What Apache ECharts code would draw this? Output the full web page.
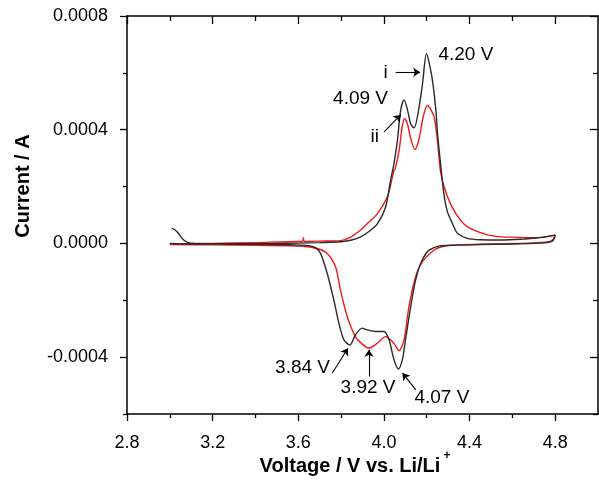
<!DOCTYPE html>
<html><head><meta charset="utf-8">
<script src="https://cdn.jsdelivr.net/npm/echarts@6/dist/echarts.min.js"></script>
<style>html,body{margin:0;padding:0;background:#fff}#c{width:599px;height:485px}</style>
</head><body><div id="c"></div>
<script>
// Voltage (V) and current (A) along the sweep, curve i (black)
var blackV = [3.009,3.02,3.035,3.05,3.065,3.085,3.12,3.3,3.5,3.6,3.7,3.798,3.85,3.891,3.93,3.97,4.008,4.031,4.047,4.063,4.078,4.094,4.11,4.125,4.141,4.16,4.18,4.199,4.213,4.227,4.243,4.25,4.266,4.282,4.297,4.313,4.329,4.344,4.39,4.45,4.547,4.65,4.70,4.75,4.80,
  4.79,4.75,4.6,4.45,4.35,4.266,4.235,4.203,4.172,4.148,4.125,4.101,4.086,4.068,4.047,4.024,4.0,3.969,3.922,3.899,3.867,3.841,3.813,3.79,3.766,3.735,3.704,3.68,3.65,3.61,3.5,3.3,3.1,3.0];
var blackI = [0.53e-4,0.50e-4,0.40e-4,0.25e-4,0.12e-4,0.03e-4,0.0,-0.01e-4,0.0,0.01e-4,0.03e-4,0.06e-4,0.12e-4,0.23e-4,0.42e-4,0.70e-4,1.28e-4,2.22e-4,2.81e-4,3.62e-4,4.67e-4,5.05e-4,4.70e-4,4.20e-4,4.07e-4,4.60e-4,5.60e-4,6.67e-4,6.30e-4,5.73e-4,4.67e-4,3.90e-4,2.70e-4,1.64e-4,1.10e-4,0.82e-4,0.55e-4,0.35e-4,0.18e-4,0.13e-4,0.12e-4,0.15e-4,0.18e-4,0.22e-4,0.29e-4,
  0.10e-4,0.02e-4,-0.02e-4,-0.04e-4,-0.06e-4,-0.08e-4,-0.15e-4,-0.29e-4,-0.70e-4,-1.29e-4,-2.22e-4,-3.39e-4,-4.09e-4,-4.42e-4,-4.09e-4,-3.39e-4,-3.10e-4,-3.10e-4,-3.04e-4,-2.98e-4,-3.22e-4,-3.57e-4,-3.39e-4,-2.81e-4,-1.99e-4,-1.05e-4,-0.35e-4,-0.15e-4,-0.08e-4,-0.06e-4,-0.04e-4,-0.03e-4,-0.02e-4,0.0];
// curve ii (red)
var redV = [3.0,3.2,3.4,3.6,3.62,3.624,3.628,3.7,3.798,3.845,3.891,3.93,3.97,4.016,4.04,4.047,4.053,4.071,4.085,4.096,4.11,4.125,4.145,4.165,4.185,4.204,4.22,4.235,4.25,4.266,4.297,4.336,4.39,4.484,4.547,4.6,4.70,4.80,
  4.78,4.7,4.5,4.35,4.28,4.235,4.18,4.148,4.117,4.094,4.071,4.05,4.031,4.008,3.969,3.930,3.9,3.867,3.829,3.797,3.774,3.735,3.688,3.62,3.4,3.2,3.0];
var redI = [-0.03e-4,0.0,0.03e-4,0.07e-4,0.07e-4,0.20e-4,0.07e-4,0.08e-4,0.10e-4,0.22e-4,0.47e-4,0.75e-4,1.05e-4,1.64e-4,2.34e-4,2.57e-4,2.62e-4,3.27e-4,4.09e-4,4.39e-4,4.20e-4,3.70e-4,3.30e-4,3.70e-4,4.50e-4,4.85e-4,4.70e-4,4.44e-4,3.62e-4,2.46e-4,1.64e-4,1.05e-4,0.58e-4,0.30e-4,0.23e-4,0.22e-4,0.20e-4,0.29e-4,
  0.08e-4,0.02e-4,-0.02e-4,-0.05e-4,-0.10e-4,-0.23e-4,-0.64e-4,-1.17e-4,-2.22e-4,-3.39e-4,-3.77e-4,-3.55e-4,-3.39e-4,-3.28e-4,-3.51e-4,-3.68e-4,-3.55e-4,-3.28e-4,-2.58e-4,-1.64e-4,-0.82e-4,-0.35e-4,-0.18e-4,-0.10e-4,-0.07e-4,-0.05e-4,-0.04e-4];
var xMajor = [2.8,3.2,3.6,4.0,4.4,4.8];
var xMinor = [3.0,3.4,3.8,4.2,4.6];
var yMajor = [-0.0004,0,0.0004,0.0008];
var yMinor = [-0.0006,-0.0002,0.0002,0.0006];
// annotation labels: text, voltage, current
var noteText = ['4.20 V','i','4.09 V','ii','3.84 V','3.92 V','4.07 V'];
var noteV = [4.383,4.008,3.891,3.957,3.620,3.926,4.271];
var noteI = [6.64e-4,6.02e-4,5.09e-4,3.74e-4,-4.37e-4,-5.09e-4,-5.44e-4];
// arrows: from (v,I) to (v,I)
var arrowFromV = [4.055,3.759,3.930,4.149];
var arrowFromI = [6.02e-4,-4.56e-4,-4.68e-4,-5.15e-4];
var arrowToV = [4.169,3.832,3.930,4.087];
var arrowToI = [6.02e-4,-3.69e-4,-3.74e-4,-4.56e-4];
var curvedFrom = [4.001,3.92e-4];
var curvedTo = [4.079,4.53e-4];

var FONT = '"Liberation Sans", Arial, sans-serif';
function pairs(a,b){return a.map(function(v,i){return [v,b[i]];});}

var chart = echarts.init(document.getElementById('c'), null, {renderer:'canvas'});
function xAx(pos, vals, len, inside, showLine, showLabel){
  return {type:'value', position:pos, min:2.8, max:5.0, gridIndex:0,
    axisLine:{show:showLine, onZero:false, lineStyle:{color:'#000', width:1.5}},
    axisTick:{show:true, inside:inside, length:len, customValues:vals, lineStyle:{color:'#000', width:1.3}},
    axisLabel:{show:showLabel, customValues:vals, margin:20, fontFamily:FONT, fontSize:18, color:'#000',
      formatter:function(v){return v.toFixed(1);}},
    splitLine:{show:false}};
}
function yAx(pos, vals, len, inside, showLine, showLabel){
  return {type:'value', position:pos, min:-0.0006, max:0.0008, gridIndex:0,
    axisLine:{show:showLine, onZero:false, lineStyle:{color:'#000', width:1.5}},
    axisTick:{show:true, inside:inside, length:len, customValues:vals, lineStyle:{color:'#000', width:1.3}},
    axisLabel:{show:showLabel, customValues:vals, margin:19, fontFamily:FONT, fontSize:18, color:'#000',
      formatter:function(v){return v.toFixed(4);}},
    splitLine:{show:false}};
}
var markPts = noteText.map(function(t,i){
  return {coord:[noteV[i],noteI[i]], symbol:'circle', symbolSize:1,
    itemStyle:{color:'rgba(0,0,0,0)'},
    label:{show:true, position:'inside', formatter:t, fontFamily:FONT, fontSize:19, color:'#000'}};
});
var markLns = arrowFromV.map(function(v,i){
  return [{coord:[v,arrowFromI[i]], symbol:'none'},{coord:[arrowToV[i],arrowToI[i]], symbol:'arrow'}];
});
markLns.push([{coord:curvedFrom, symbol:'none', lineStyle:{curveness:0.6}},{coord:curvedTo, symbol:'arrow'}]);

chart.setOption({
  animation:false,
  backgroundColor:'#fff',
  grid:{left:127, right:1, top:16, bottom:71, containLabel:false},
  xAxis:[xAx('bottom',xMajor,7,false,true,true), xAx('bottom',xMinor,4,false,false,false),
         xAx('top',xMajor,8,true,true,false), xAx('top',xMinor,5,true,false,false)],
  yAxis:[yAx('left',yMajor,7,false,true,true), yAx('left',yMinor,4,false,false,false),
         yAx('right',yMajor,8,true,true,false), yAx('right',yMinor,5,true,false,false)],
  series:[
    {type:'line', name:'ii', data:pairs(redV,redI), showSymbol:false, smooth:0.3,
     lineStyle:{color:'#f01818', width:1.4}, itemStyle:{color:'#f01818'}, z:2},
    {type:'line', name:'i', data:pairs(blackV,blackI), showSymbol:false, smooth:0.3,
     lineStyle:{color:'#2a2a2a', width:1.4}, itemStyle:{color:'#2a2a2a'}, z:3,
     markPoint:{silent:true, data:markPts},
     markLine:{silent:true, symbol:['none','arrow'], symbolSize:7, label:{show:false},
       lineStyle:{color:'#000', width:1.1, type:'solid'}, data:markLns}}
  ],
  graphic:[
    {type:'text', x:23, y:186, rotation:Math.PI/2, style:{text:'Current / A', font:'bold 20px '+FONT, fill:'#000', align:'center', verticalAlign:'middle'}},
    {type:'text', x:350, y:466, style:{text:'Voltage / V vs. Li/Li', font:'bold 20px '+FONT, fill:'#000', align:'center', verticalAlign:'middle'}},
    {type:'text', x:447, y:456, style:{text:'+', font:'bold 12px '+FONT, fill:'#000', align:'center', verticalAlign:'middle'}}
  ]
});
</script></body></html>
